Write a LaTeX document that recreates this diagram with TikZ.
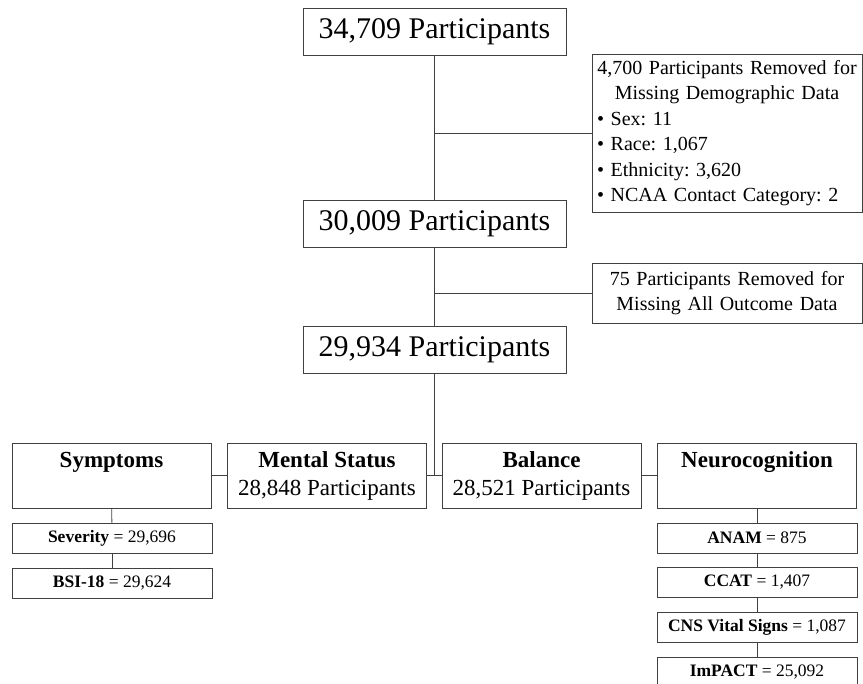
\documentclass[tikz,border=0pt]{standalone}
\usepackage{fontspec}
\setmainfont{Liberation Serif}
\frenchspacing
\newcommand{\bulletline}[1]{\makebox[\linewidth][l]{\textbullet\ #1}}
\begin{document}
\begin{tikzpicture}[x=1pt, y=-1pt,
    box/.style={draw=black!75, line width=0.8pt, inner sep=2pt, align=center},
    countbox/.style={box, minimum width=263pt, minimum height=47pt, font=\fontsize{30}{36}\selectfont},
    removedbox/.style={box, inner xsep=5pt, text width=260pt, font=\fontsize{20}{25.5}\selectfont},
    outcomebox/.style={box, minimum width=199pt, minimum height=65pt, font=\fontsize{23}{28}\selectfont},
    testbox/.style={box, minimum width=200pt, minimum height=30pt, font=\fontsize{17.5}{21}\selectfont},
    link/.style={draw=black!75, line width=0.8pt}]
    \useasboundingbox (0, 0) rectangle (863, 684);

    \node[countbox] (total) at (434.5, 31.5) {34,709 Participants};
    \node[countbox] (demog) at (434.5, 224) {30,009 Participants};
    \node[countbox] (final) at (434.5, 350) {29,934 Participants};

    \node[removedbox, minimum height=158pt] (nodemog) at (727, 133) {4,700 Participants Removed for\\
        Missing Demographic Data\\
        \bulletline{Sex: 11}\\
        \bulletline{Race: 1,067}\\
        \bulletline{Ethnicity: 3,620}\\
        \bulletline{NCAA Contact Category: 2}};
    \node[removedbox, minimum height=60pt] (nooutcome) at (727, 293) {75 Participants Removed for\\
        Missing All Outcome Data};

    \node[outcomebox] (symptoms) at (111.5, 475.5) {\strut\textbf{Symptoms}\\ \strut};
    \node[outcomebox] (mental) at (327, 475.5) {\strut\textbf{Mental Status}\\ \strut28,848 Participants};
    \node[outcomebox] (balance) at (541.5, 475.5) {\strut\textbf{Balance}\\ \strut28,521 Participants};
    \node[outcomebox] (neuro) at (757, 475.5) {\strut\textbf{Neurocognition}\\ \strut};

    \node[testbox] (severity) at (112, 538) {\textbf{Severity} = 29,696};
    \node[testbox] (bsi) at (112, 583.5) {\textbf{BSI-18} = 29,624};

    \node[testbox] (anam) at (757, 538) {\textbf{ANAM} = 875};
    \node[testbox] (ccat) at (757, 582) {\textbf{CCAT} = 1,407};
    \node[testbox] (cns) at (757, 627.5) {\textbf{CNS Vital Signs} = 1,087};
    \node[testbox] (impact) at (757, 672.5) {\textbf{ImPACT} = 25,092};

    \draw[link] (total) -- (demog);
    \draw[link] (nodemog.west) -- (nodemog.west -| total.south);
    \draw[link] (demog) -- (final);
    \draw[link] (nooutcome.west) -- (nooutcome.west -| demog.south);
    \draw[link] (final.south) -- (final.south |- mental.east);

    \draw[link] (symptoms) -- (mental);
    \draw[link] (mental) -- (balance);
    \draw[link] (balance) -- (neuro);

    \draw[link] (symptoms) -- (severity);
    \draw[link] (severity) -- (bsi);
    \draw[link] (neuro) -- (anam);
    \draw[link] (anam) -- (ccat);
    \draw[link] (ccat) -- (cns);
    \draw[link] (cns) -- (impact);
\end{tikzpicture}
\end{document}
